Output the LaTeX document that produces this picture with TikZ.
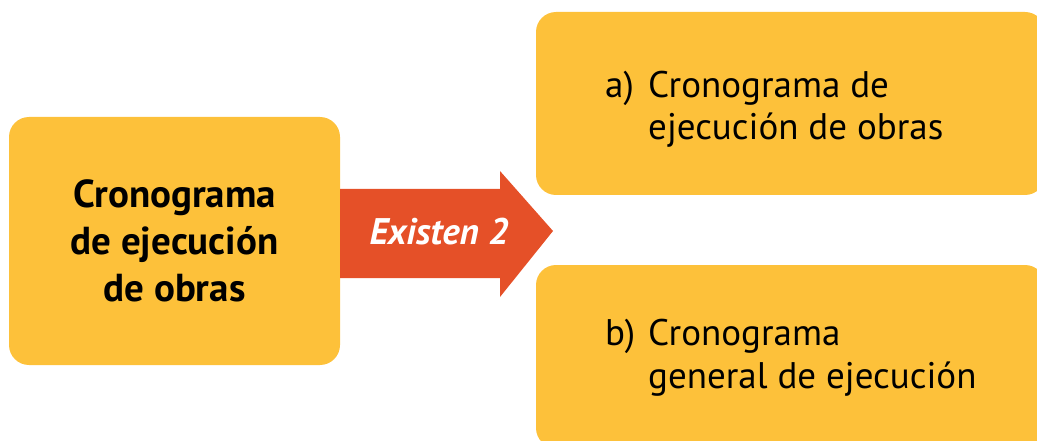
\documentclass[tikz,border=0pt]{standalone}
\usepackage{fontspec}
\setmainfont{PT Sans}
\usetikzlibrary{positioning}
\definecolor{cronoyellow}{HTML}{FDC13A}
\definecolor{cronored}{HTML}{E55028}
\tikzset{
  card/.style={fill=cronoyellow, rounded corners=20pt, inner sep=0pt},
  lead/.style={card, align=center, font=\fontsize{39}{47}\selectfont\bfseries},
  item/.style={anchor=west, inner sep=0pt, font=\fontsize{37}{42.5}\selectfont},
  tag/.style={text=white, inner sep=0pt, font=\fontsize{37}{40}\selectfont\bfseries\itshape},
}
\begin{document}
\begin{tikzpicture}[x=1pt, y=-1pt]
  \useasboundingbox (0,0) rectangle (1037,441);
  \node[lead, minimum width=331, minimum height=248] (main) at (174.5,241) {Cronograma\\de ejecución\\de obras};
  \node[card, minimum width=509, minimum height=183] (boxa) at (790.5,103.5) {};
  \node[card, minimum width=509, minimum height=183] (boxb) at (790.5,356.5) {};
  \fill[cronored] (340,189) -- (500,189) -- (500,171) -- (553,231) -- (500,297) -- (500,278) -- (340,278) -- cycle;
  \node[tag] (count) at (439,232) {Existen 2};
  \node[item] (texta) at (605,110) {\begin{tabular}{@{}p{43pt}@{}l@{}}a) & Cronograma de\\ & ejecución de obras\end{tabular}};
  \node[item] (textb) at (605,358.5) {\begin{tabular}{@{}p{43pt}@{}l@{}}b) & Cronograma\\ & general de ejecución\end{tabular}};
\end{tikzpicture}
\end{document}
